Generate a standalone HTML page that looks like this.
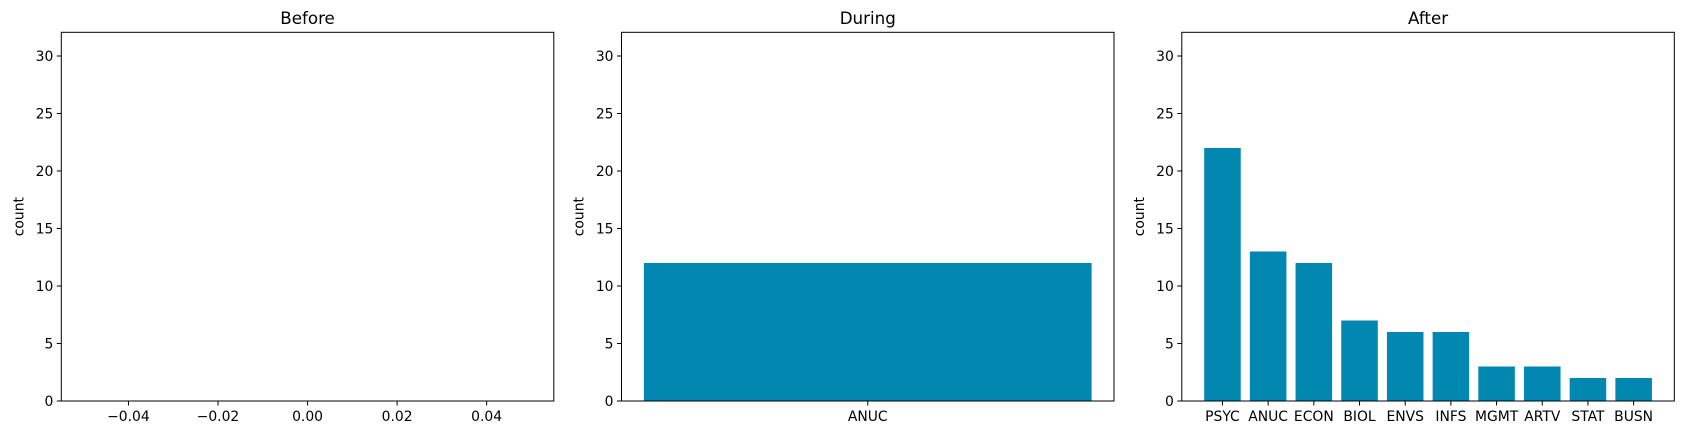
<!DOCTYPE html>
<html><head><meta charset="utf-8"><style>
body{margin:0;background:#fff;}
svg{display:block;font-family:"DejaVu Sans","Liberation Sans",sans-serif;}
</style></head><body>
<svg id="fig" width="1686" height="435" viewBox="0 0 1686 435" xmlns="http://www.w3.org/2000/svg"></svg>
<script>
const beforeCats = [];
const beforeVals = [];
const duringCats = ["ANUC"];
const duringVals = [12];
const afterCats = ["PSYC","ANUC","ECON","BIOL","ENVS","INFS","MGMT","ARTV","STAT","BUSN"];
const afterVals = [22,13,12,7,6,6,3,3,2,2];
const yTicks = [0,5,10,15,20,25,30];
const beforeXTicks = [-0.04,-0.02,0.00,0.02,0.04];
const beforeXLabels = ["\u22120.04","\u22120.02","0.00","0.02","0.04"];
const titles = ["Before","During","After"];

const NS="http://www.w3.org/2000/svg";
const svg=document.getElementById('fig');
const Y0=401, YT=32.3, YMAX=32.06, W=492.5;
function yScale(v){return Y0-(v/YMAX)*(Y0-YT);}
function mk(tag,attrs,parent){const e=document.createElementNS(NS,tag);for(const k in attrs)e.setAttribute(k,attrs[k]);(parent||svg).appendChild(e);return e;}

function panel(idx,left,cats,vals,title){
  const right=left+W;
  const g=mk('g',{});
  
  
  let xmin,xmax;
  if(cats.length===0){xmin=-0.055;xmax=0.055;}
  else{const n=cats.length;const lo=-0.4,hi=n-1+0.4;const m=(hi-lo)*0.05;xmin=lo-m;xmax=hi+m;}
  const xs=v=>left+(v-xmin)/(xmax-xmin)*(right-left);
  cats.forEach((c,i)=>{
    const x0=xs(i-0.4),x1=xs(i+0.4);
    const r=mk('rect',{x:x0,y:yScale(vals[i]),width:x1-x0,height:Y0-yScale(vals[i]),fill:'#0288b0'},g);
    
    
  });
  const f=mk('rect',{x:left,y:YT,width:W,height:Y0-YT,fill:'none',stroke:'#000','stroke-width':1},g);
  
  
  yTicks.forEach(t=>{
    const y=yScale(t);
    mk('line',{x1:left-4.5,x2:left,y1:y,y2:y,stroke:'#000'},g);
    const tx=mk('text',{x:left-8,y:y+5,'font-size':'13.9','text-anchor':'end',fill:'#000'},g);
    tx.textContent=t;
    
    
  });
  if(cats.length===0){
    beforeXTicks.forEach((t,i)=>{
      const x=xs(t);
      mk('line',{x1:x,x2:x,y1:Y0,y2:Y0+4.5,stroke:'#000'},g);
      const tx=mk('text',{x:x,y:Y0+20,'font-size':'13.9','text-anchor':'middle',fill:'#000'},g);
      tx.textContent=beforeXLabels[i];
      
      
    });
  } else {
    cats.forEach((c,i)=>{
      const x=xs(i);
      mk('line',{x1:x,x2:x,y1:Y0,y2:Y0+4.5,stroke:'#000'},g);
      const tx=mk('text',{x:x,y:Y0+20,'font-size':'13.9','text-anchor':'middle',fill:'#000'},g);
      tx.textContent=c;
      
      
    });
  }
  const tt=mk('text',{x:left+W/2,y:24,'font-size':'16.7','text-anchor':'middle',fill:'#000'},g);
  tt.textContent=title;
  
  
  const yl=mk('text',{x:0,y:0,'font-size':'13.9','text-anchor':'middle',fill:'#000',transform:'translate('+(left-38)+','+((Y0+YT)/2)+') rotate(-90)'},g);
  yl.textContent='count';
  
  
}
panel(0,61.3,beforeCats,beforeVals,titles[0]);
panel(1,621.5,duringCats,duringVals,titles[1]);
panel(2,1181.8,afterCats,afterVals,titles[2]);
</script>
</body></html>
